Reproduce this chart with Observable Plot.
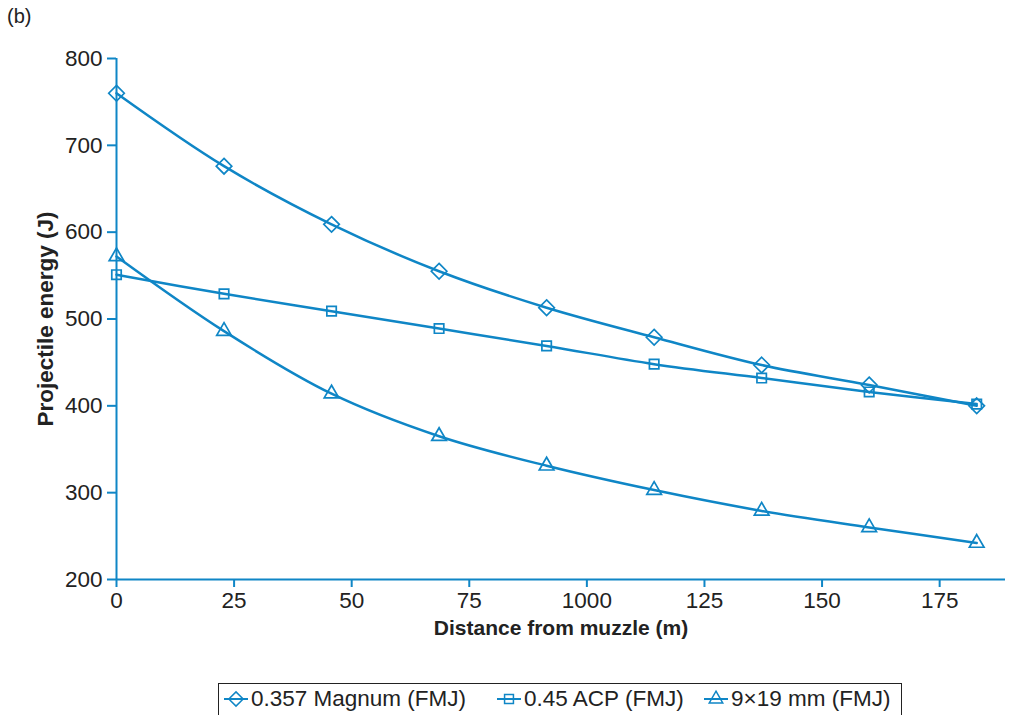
<!DOCTYPE html>
<html>
<head>
<meta charset="utf-8">
<script src="https://cdn.jsdelivr.net/npm/d3@7"></script>
<script src="https://cdn.jsdelivr.net/npm/@observablehq/plot@0.6"></script>
<style>
  body { margin: 0; background: #fff; font-family: "Liberation Sans", Arial, sans-serif; }
  #wrap { position: relative; width: 1010px; height: 715px; overflow: hidden; }
  #tag { position: absolute; left: 7px; top: 5px; font-size: 20px; color: #222; }
  #legend { position: absolute; left: 218px; top: 683px; width: 684px; height: 34px; border: 1.3px solid #222; box-sizing: border-box; }
  .item { position: absolute; top: 0; height: 30px; display: flex; align-items: center; font-size: 22.5px; color: #222; }
  .item svg { margin-right: 3px; }
</style>
</head>
<body>
<div id="wrap">
  <div id="chart"></div>
  <div id="tag">(b)</div>
  <div id="legend"></div>
</div>
<script>
const distances = [0, 22.86, 45.72, 68.58, 91.44, 114.3, 137.16, 160.02, 182.88];
const magnum = [760, 676, 609, 555, 513, 479, 447, 424, 400];
const acp = [551, 529, 509, 489, 469, 448, 432, 416, 402];
const nine = [572, 486, 414, 365, 331, 303, 279, 260, 242];
const seriesNames = ["0.357 Magnum (FMJ)", "0.45 ACP (FMJ)", "9\u00d719 mm (FMJ)"];
const symbols = ["diamond2", "square2", "triangle2"];
const xTicks = [0, 25, 50, 75, 100, 125, 150, 175];
const xTickLabels = ["0", "25", "50", "75", "1000", "125", "150", "175"];
const yTicks = [200, 300, 400, 500, 600, 700, 800];

const blue = "#0f86c6";
const allSeries = [magnum, acp, nine];
const data = allSeries.map((vals, i) => vals.map((v, j) => ({series: seriesNames[i], x: distances[j], y: v})));

const marks = [
  Plot.ruleX([0], {stroke: blue, strokeWidth: 2}),
  Plot.ruleY([200], {stroke: blue, strokeWidth: 2}),
  Plot.axisX(xTicks, {tickSize: 8, tickPadding: 5, stroke: blue, strokeWidth: 2, fill: "#222", fontSize: 22.5,
    tickFormat: d => xTickLabels[xTicks.indexOf(d)], label: null}),
  Plot.axisY(yTicks, {tickSize: 9, tickPadding: 5, stroke: blue, strokeWidth: 2, fill: "#222", fontSize: 22.5, label: null}),
  Plot.text(["Distance from muzzle (m)"], {frameAnchor: "bottom", textAnchor: "middle", dy: 55, fontSize: 21, fontWeight: "bold", fill: "#222"}),
  Plot.text(["Projectile energy (J)"], {frameAnchor: "left", textAnchor: "middle", dx: -71, rotate: -90, fontSize: 22.5, fontWeight: "bold", fill: "#222"})
];
data.forEach((d, i) => {
  marks.push(Plot.line(d, {x: "x", y: "y", stroke: blue, strokeWidth: 2.5, curve: "catmull-rom"}));
  marks.push(Plot.dot(d, {x: "x", y: "y", symbol: () => symbols[i], r: i === 1 ? 6 : 7, stroke: blue, strokeWidth: 1.7, fill: "none"}));
});

const chart = Plot.plot({
  width: 1010,
  height: 670,
  marginLeft: 116,
  marginRight: 5,
  marginTop: 58,
  marginBottom: 91,
  style: {fontFamily: "'Liberation Sans', Arial, sans-serif", background: "#fff"},
  x: {domain: [0, 189]},
  y: {domain: [200, 800]},
  symbol: {type: "identity"},
  marks
});
document.getElementById("chart").appendChild(chart);

// Legend
const legend = document.getElementById("legend");
const lefts = [5, 278, 485];
const symbolScale = d3.scaleOrdinal(symbols, [d3.symbolDiamond2, d3.symbolSquare2, d3.symbolTriangle2]);
seriesNames.forEach((name, i) => {
  const item = document.createElement("div");
  item.className = "item";
  item.style.left = lefts[i] + "px";
  const sym = d3.symbol(symbolScale(symbols[i]), i === 1 ? 100 : 130)();
  item.innerHTML = `<svg width="24" height="22" viewBox="-12 -11 24 22">
      <line x1="-12" x2="12" y1="0" y2="0" stroke="${blue}" stroke-width="2"/>
      <path d="${sym}" fill="none" stroke="${blue}" stroke-width="1.5"/></svg><span>${name}</span>`;
  legend.appendChild(item);
});
</script>
</body>
</html>
